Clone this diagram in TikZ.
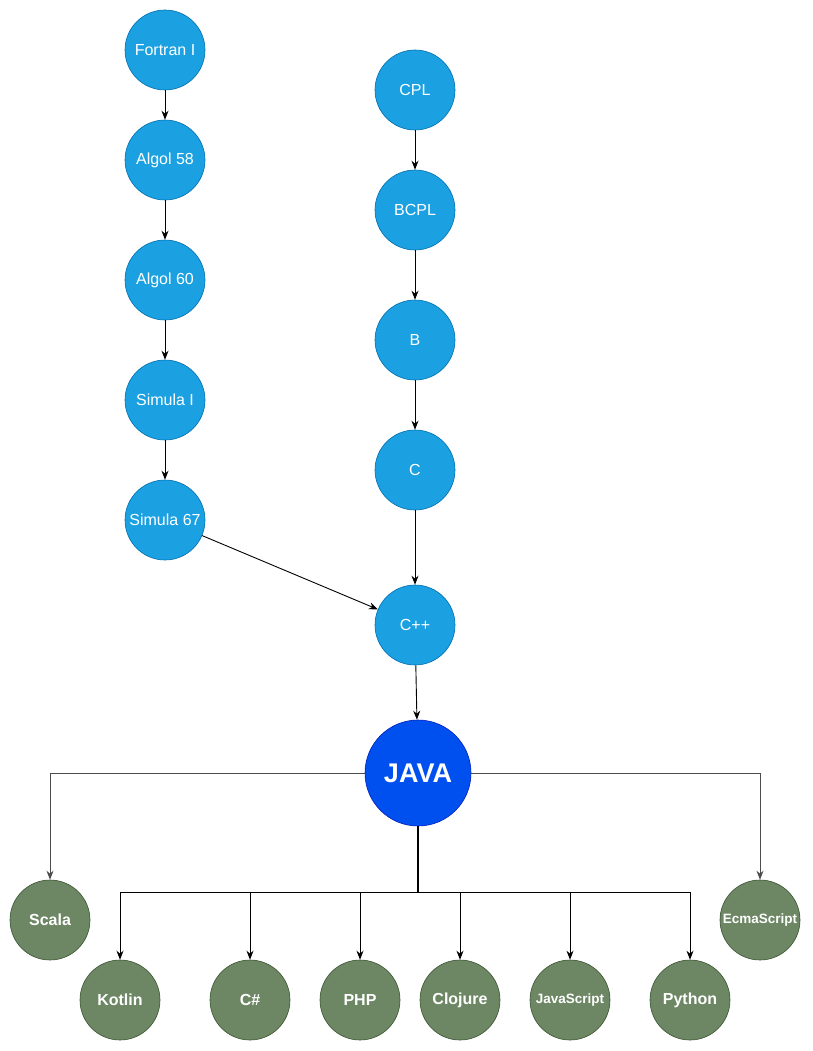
\documentclass[tikz,border=0pt]{standalone}
\usepackage{fontspec}
\setmainfont{Liberation Sans}
\usetikzlibrary{arrows.meta,positioning}
\definecolor{lblue}{HTML}{1BA1E2}
\definecolor{lbluedk}{HTML}{006EAF}
\definecolor{jblue}{HTML}{0050EF}
\definecolor{jbluedk}{HTML}{001DBC}
\definecolor{hgreen}{HTML}{6D8764}
\definecolor{hgreendk}{HTML}{3A5431}
\tikzset{
  lang/.style={circle,fill=lblue,draw=lbluedk,line width=0.6pt,minimum size=80pt,inner sep=0pt,text=white,font=\fontsize{16}{19}\selectfont},
  core/.style={circle,fill=jblue,draw=jbluedk,line width=0.6pt,minimum size=106pt,inner sep=0pt,text=white,font=\fontsize{27}{32}\selectfont\bfseries},
  heir/.style={circle,fill=hgreen,draw=hgreendk,line width=0.6pt,minimum size=80pt,inner sep=0pt,text=white,font=\fontsize{16}{19}\selectfont\bfseries},
  small/.style={font=\fontsize{13.5}{16}\selectfont\bfseries},
  arr/.style={-{Stealth[length=9pt,width=7pt]},line width=0.9pt,draw=black},
  garr/.style={-{Stealth[length=9pt,width=7pt]},line width=0.9pt,draw=black!70},
}
\begin{document}
\begin{tikzpicture}[x=1pt,y=-1pt]
  \useasboundingbox (0,0) rectangle (812,1051);
  % left line of descent
  \node[lang] (fortran) at (165,50) {Fortran I};
  \node[lang] (algol58) at (165,160) {Algol 58};
  \node[lang] (algol60) at (165,280) {Algol 60};
  \node[lang] (simula1) at (165,400) {Simula I};
  \node[lang] (simula67) at (165,520) {Simula 67};
  % right line of descent
  \node[lang] (cpl) at (415,90) {CPL};
  \node[lang] (bcpl) at (415,210) {BCPL};
  \node[lang] (b) at (415,340) {B};
  \node[lang] (c) at (415,470) {C};
  \node[lang] (cpp) at (415,625) {C++};
  \node[core] (java) at (418,773) {JAVA};
  % heirs
  \node[heir] (scala) at (50,920) {Scala};
  \node[heir,small] (ecma) at (760,920) {EcmaScript};
  \node[heir] (kotlin) at (120,1000) {Kotlin};
  \node[heir] (csharp) at (250,1000) {C\#};
  \node[heir] (php) at (360,1000) {PHP};
  \node[heir] (clojure) at (460,1000) {Clojure};
  \node[heir,small] (js) at (570,1000) {JavaScript};
  \node[heir] (python) at (690,1000) {Python};
  \coordinate (bus) at (418,892);
  \foreach \a/\b in {fortran/algol58,algol58/algol60,algol60/simula1,simula1/simula67,cpl/bcpl,bcpl/b,b/c,c/cpp,simula67/cpp,cpp/java}
    \draw[arr] (\a) -- (\b);
  \draw[garr] (java.west) -| (scala.north);
  \draw[garr] (java.east) -| (ecma.north);
  \draw[line width=2pt] (java.south) -- (bus);
  \foreach \n in {kotlin,csharp,php,clojure,js,python}
    \draw[arr] (bus) -| (\n.north);
\end{tikzpicture}
\end{document}
